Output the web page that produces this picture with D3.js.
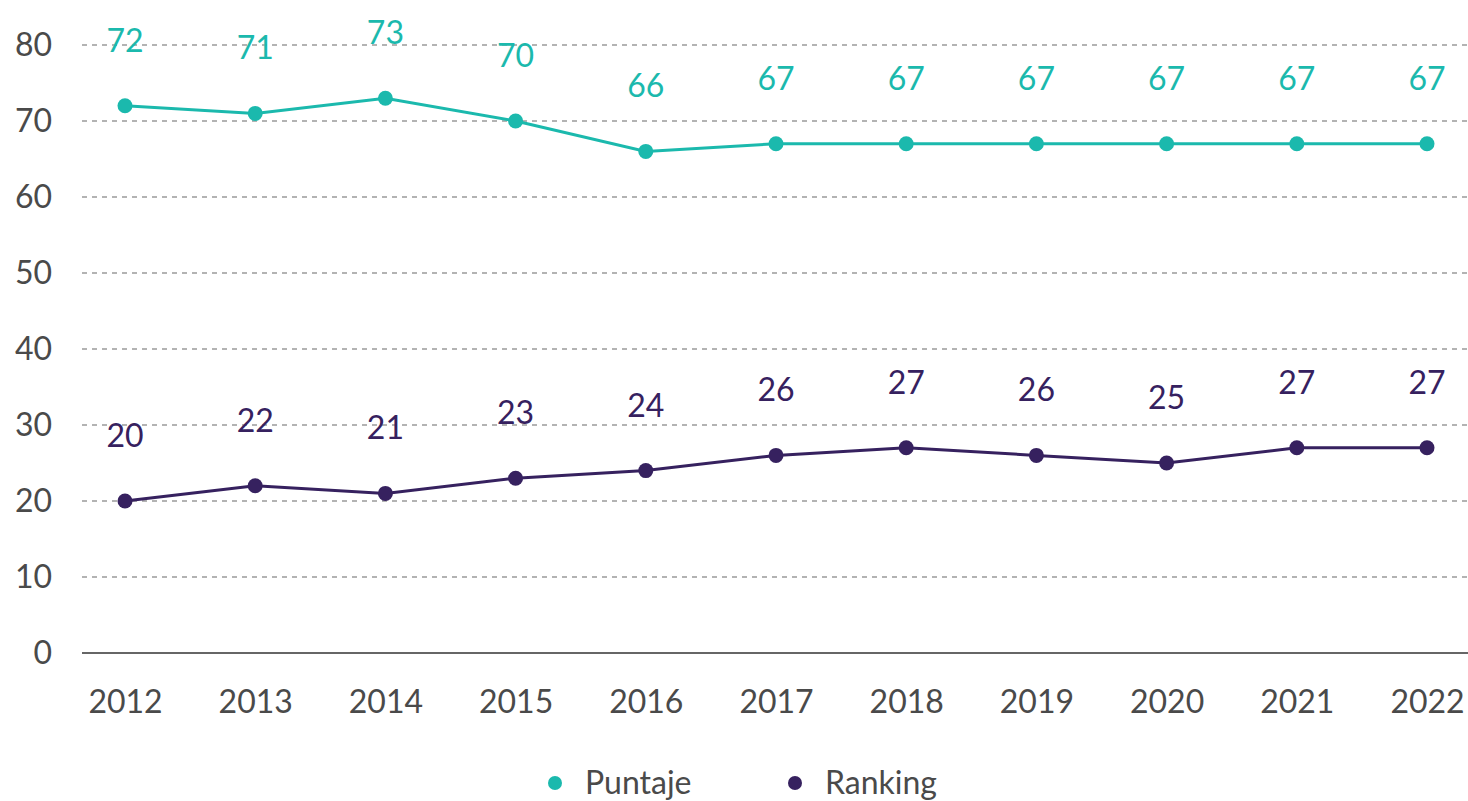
<!DOCTYPE html>
<html>
<head>
<meta charset="utf-8">
<script src="https://cdn.jsdelivr.net/npm/d3@7"></script>
<style>
  body { margin: 0; background: #fff; }
  text { font-family: Lato, "Noto Sans", sans-serif; }
</style>
</head>
<body>
<div id="chart"></div>
<script>
// data
var years = ["2012", "2013", "2014", "2015", "2016", "2017", "2018", "2019", "2020", "2021", "2022"];
var puntaje = [72, 71, 73, 70, 66, 67, 67, 67, 67, 67, 67];
var ranking = [20, 22, 21, 23, 24, 26, 27, 26, 25, 27, 27];
var yTicks = [0, 10, 20, 30, 40, 50, 60, 70, 80];

function init() {
    var w = 1468, h = 801;

    var svg = d3.select("#chart")
                .append("svg")
                .attr("width", w)
                .attr("height", h);

    var x = d3.scalePoint().domain(years).range([125, 1427]);
    var y = d3.scaleLinear().domain([0, 80]).range([653, 45]);

    var series = [
        { name: "Puntaje", values: puntaje, color: "#1bb9ad" },
        { name: "Ranking", values: ranking, color: "#36215f" }
    ];

    // dashed grid lines
    svg.append("g")
       .selectAll("line")
       .data(yTicks.filter(function(d) { return d > 0; }))
       .enter()
       .append("line")
       .attr("x1", 82).attr("x2", w)
       .attr("y1", function(d) { return y(d); })
       .attr("y2", function(d) { return y(d); })
       .attr("stroke", "#9a9a9a")
       .attr("stroke-width", 1.5)
       .attr("stroke-dasharray", "5,5");

    // baseline
    svg.append("line")
       .attr("x1", 82).attr("x2", w)
       .attr("y1", y(0)).attr("y2", y(0))
       .attr("stroke", "#666")
       .attr("stroke-width", 2);

    // y axis labels
    var yAxis = d3.axisLeft(y).tickValues(yTicks).tickSize(0).tickPadding(0);
    svg.append("g")
       .attr("transform", "translate(52,0)")
       .call(yAxis)
       .call(function(g) { g.select(".domain").remove(); })
       .selectAll("text")
       .attr("font-size", "32px")
       .attr("fill", "#4a4a4a");

    // x axis labels
    var xAxis = d3.axisBottom(x).tickSize(0).tickPadding(0);
    svg.append("g")
       .attr("transform", "translate(0,690)")
       .call(xAxis)
       .call(function(g) { g.select(".domain").remove(); })
       .selectAll("text")
       .attr("font-size", "32px")
       .attr("fill", "#4a4a4a");

    var line = d3.line()
                 .x(function(d, i) { return x(years[i]); })
                 .y(function(d) { return y(d); });

    series.forEach(function(s) {
        var g = svg.append("g");

        g.append("path")
         .attr("d", line(s.values))
         .attr("fill", "none")
         .attr("stroke", s.color)
         .attr("stroke-width", 3);

        g.selectAll("circle")
         .data(s.values)
         .enter()
         .append("circle")
         .attr("cx", function(d, i) { return x(years[i]); })
         .attr("cy", function(d) { return y(d); })
         .attr("r", 7.5)
         .attr("fill", s.color);

        g.selectAll("text")
         .data(s.values)
         .enter()
         .append("text")
         .text(function(d) { return d; })
         .attr("x", function(d, i) { return x(years[i]); })
         .attr("y", function(d) { return y(d) - 54; })
         .attr("text-anchor", "middle")
         .attr("font-size", "32px")
         .attr("fill", s.color);
    });

    // legend
    var legend = svg.append("g")
                    .selectAll("g")
                    .data(series)
                    .enter()
                    .append("g")
                    .attr("transform", function(d, i) { return "translate(" + (555 + i * 240) + ",783)"; });

    legend.append("circle")
          .attr("r", 7)
          .attr("fill", function(d) { return d.color; });

    legend.append("text")
          .text(function(d) { return d.name; })
          .attr("x", 30)
          .attr("y", 11)
          .attr("font-size", "32px")
          .attr("fill", "#4a4a4a");
}

window.onload = init;
</script>
</body>
</html>
